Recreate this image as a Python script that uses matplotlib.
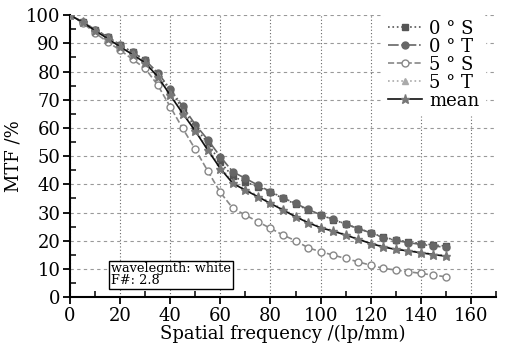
import matplotlib
matplotlib.use("Agg")
import matplotlib.pyplot as plt
import numpy as np
from matplotlib.ticker import MultipleLocator

freq = list(range(0, 155, 5))

mtf_0s = [100, 97.6, 94.9, 92.3, 89.4, 86.8, 84.0, 79.3, 73.2, 66.8, 60.2, 54.6, 47.8, 42.8,
          40.8, 39.2, 37.2, 35.0, 33.0, 30.9, 29.1, 27.5, 25.9, 24.3, 22.9, 21.2, 20.3,
          19.6, 19.0, 18.5, 18.1]
mtf_0t = [100, 97.6, 94.9, 92.3, 89.4, 86.8, 84.0, 79.6, 73.8, 67.6, 61.2, 55.8, 49.8, 44.4,
          42.1, 39.7, 37.4, 35.2, 33.2, 31.1, 29.2, 27.6, 25.9, 24.3, 22.8, 21.1, 20.1,
          19.3, 18.7, 18.1, 17.7]
mtf_5s = [100, 97.3, 93.7, 90.5, 87.6, 84.3, 81.1, 75.2, 67.5, 59.8, 52.4, 44.7, 37.1, 31.5,
          29.1, 26.7, 24.4, 22.0, 20.0, 17.5, 16.1, 14.9, 13.7, 12.5, 11.3, 10.2, 9.6,
          9.0, 8.4, 7.8, 7.2]
mtf_5t = [100, 97.5, 94.6, 91.9, 88.9, 86.1, 83.2, 78.6, 72.0, 65.6, 59.4, 52.8, 46.2, 40.8,
          38.3, 36.0, 33.6, 31.2, 28.8, 26.7, 24.9, 23.6, 22.2, 20.7, 19.2, 18.0, 17.1,
          16.6, 15.9, 15.3, 14.8]
mtf_mean = [100, 97.5, 94.5, 91.7, 88.8, 86.0, 83.1, 78.2, 71.6, 65.1, 58.9, 52.1, 45.6, 40.3,
            37.9, 35.6, 33.2, 30.9, 28.5, 26.4, 24.6, 23.4, 22.0, 20.5, 19.0, 17.8, 16.9,
            16.4, 15.7, 15.1, 14.5]

labels = ["0 \u00b0 S", "0 \u00b0 T", "5 \u00b0 S", "5 \u00b0 T", "mean"]

plt.rcParams["font.family"] = ["DejaVu Serif"]

fig = plt.figure(figsize=(5.09, 3.52), dpi=100)
ax = fig.add_axes([0.1375, 0.156, 0.837, 0.801])

ax.plot(freq, mtf_0s, ls=":", color="#555555", marker="s", ms=4.5, lw=1.2,
        mec="#555555", mfc="#555555", label=labels[0], zorder=3)
ax.plot(freq, mtf_0t, ls="-.", color="#666666", marker="o", ms=5, lw=1.2,
        mec="#666666", mfc="#666666", label=labels[1], zorder=3)
ax.plot(freq, mtf_5s, ls="--", color="#888888", marker="o", ms=5, lw=1.2,
        mec="#888888", mfc="white", label=labels[2], zorder=3)
ax.plot(freq, mtf_5t, ls=":", color="#aaaaaa", marker="^", ms=5, lw=1.2,
        mec="#aaaaaa", mfc="#aaaaaa", label=labels[3], zorder=3)
ax.plot(freq, mtf_mean, ls="-", color="#111111", marker="*", ms=6.5, lw=1.2,
        mec="#777777", mfc="#777777", label=labels[4], zorder=4)

ax.set_xlim(0, 170)
ax.set_ylim(0, 100)
ax.xaxis.set_minor_locator(MultipleLocator(10))
ax.yaxis.set_major_locator(MultipleLocator(10))
ax.yaxis.set_minor_locator(MultipleLocator(5))
ax.set_xticks([0, 20, 40, 60, 80, 100, 120, 140, 160])
ax.tick_params(which="major", direction="out", length=5, width=1.3, labelsize=13, pad=2)
ax.tick_params(which="minor", direction="in", length=4, width=1.1)

for s in ["top", "right"]:
    ax.spines[s].set_visible(False)
for s in ["left", "bottom"]:
    ax.spines[s].set_linewidth(1.5)

ax.grid(True, which="major", axis="y", ls=(0, (3, 3)), color="#999999", lw=0.8)
ax.grid(True, which="major", axis="x", ls=(0, (1, 2)), color="#666666", lw=0.8)
ax.set_axisbelow(True)

ax.set_xlabel("Spatial frequency /(lp/mm)", fontsize=13, labelpad=0)
ax.set_ylabel("MTF /%", fontsize=13, labelpad=2)

leg = ax.legend(loc="upper right", bbox_to_anchor=(0.995, 1.035), fontsize=13, frameon=True,
                handlelength=1.9, handletextpad=0.4, labelspacing=0.0, borderpad=0.3)
leg.get_frame().set_edgecolor("white")
leg.get_frame().set_facecolor("white")
leg.get_frame().set_alpha(1)

ax.text(16.5, 3.6, "wavelegnth: white\nF#: 2.8", fontsize=9.3, linespacing=0.85,
        va="bottom", ha="left",
        bbox=dict(boxstyle="square,pad=0.15", fc="white", ec="black", lw=1.0), zorder=5)

fig.savefig("out.png", dpi=100)
